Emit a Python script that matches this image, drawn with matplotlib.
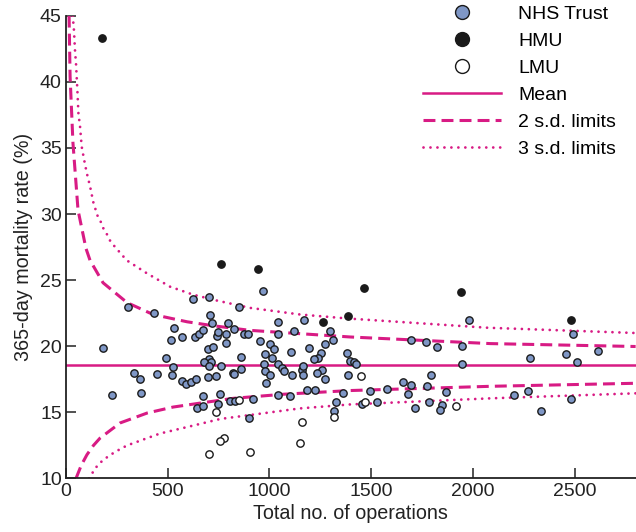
import numpy as np
import matplotlib
matplotlib.use('Agg')
import matplotlib.pyplot as plt
from matplotlib.lines import Line2D

plt.rcParams['font.family'] = ['Liberation Sans', 'DejaVu Sans']

# NHS trusts (blue)
nhs_ops = [306, 434, 626, 705, 968, 184, 225, 335, 366, 370, 448, 492, 517, 533, 569,
           526, 522, 571, 590, 612, 640, 635, 654, 673, 710, 720, 700, 722, 704, 712,
           679, 705, 700, 737, 741, 749, 786, 796, 787, 761, 827, 876, 897, 860, 858,
           823, 828, 671, 646, 673, 759, 749, 808, 830, 917, 899, 954, 1002, 1020, 1042,
           1040, 979, 1012, 974, 978, 1002, 981, 1042, 1064, 1073, 1113, 1108, 1123, 1171, 1160,
           1163, 1165, 1194, 1187, 1042, 1102, 1297, 1312, 1274, 1255, 1241, 1217, 1381, 1394, 1414,
           1427, 1386, 1260, 1236, 1273, 1225, 1363, 1328, 1315, 1494, 1456, 1530, 1578, 1657, 1694,
           1681, 1714, 1775, 1792, 1783, 1846, 1839, 1868, 1697, 1768, 1822, 1945, 1948, 1979, 2490,
           2460, 2513, 2613, 2283, 2204, 2272, 2483, 2337, 848]
nhs_rate = [23.0, 22.55, 23.6, 23.7, 24.2, 19.87, 16.29, 18.0, 17.5, 16.44, 17.9, 19.1, 20.5, 21.4, 20.7,
            18.4, 17.86, 17.35, 17.14, 17.3, 17.5, 20.7, 20.93, 21.2, 22.37, 21.77, 19.8, 19.98, 19.07, 18.84,
            18.84, 18.5, 17.7, 17.75, 20.8, 21.04, 20.93, 21.77, 20.23, 18.54, 21.29, 20.89, 20.9, 19.17, 18.28,
            18.0, 17.88, 16.23, 15.36, 15.48, 16.39, 15.66, 15.83, 15.83, 15.98, 14.57, 20.43, 20.15, 19.8, 21.8,
            20.91, 19.39, 19.14, 18.69, 18.16, 17.83, 17.25, 18.64, 18.36, 18.13, 17.86, 19.57, 21.16, 21.97, 18.23,
            18.5, 17.8, 19.9, 16.69, 16.29, 16.27, 21.16, 20.45, 20.17, 19.52, 19.1, 19.04, 19.47, 18.89, 18.81,
            18.64, 17.86, 18.18, 18.0, 17.52, 16.72, 16.46, 15.81, 15.13, 16.59, 15.66, 15.81, 16.74, 17.3, 17.1,
            16.39, 15.36, 17.02, 17.86, 15.81, 15.55, 15.17, 16.54, 20.45, 20.3, 19.95, 20.02, 18.66, 22.02, 20.89,
            19.42, 18.81, 19.62, 19.11, 16.34, 16.64, 16.0, 15.1, 23.0]

# high mortality units
hmu_ops = [176, 763, 946, 1463, 1940, 1384, 1264, 2480]
hmu_rate = [43.3, 26.19, 25.81, 24.42, 24.13, 22.27, 21.8, 22.02]

# low mortality units
lmu_ops = [850, 737, 779, 759, 705, 904, 1160, 1149, 1449, 1469, 1915, 1319]
lmu_rate = [15.93, 15.02, 13.08, 12.86, 11.87, 11.99, 14.28, 12.69, 17.78, 15.8, 15.49, 14.62]

mean_rate = 18.6

# control limits
up2_n = [15, 20, 34, 59, 98, 118, 182, 300, 428, 595, 723, 905, 1397, 2086, 2800]
up2_y = [45.0, 40.4, 35.4, 30.3, 27.4, 26.5, 24.8, 23.3, 22.4, 21.85, 21.55, 21.2, 20.7, 20.2, 19.98]
lo2_n = [49, 75, 103, 135, 167, 266, 399, 526, 659, 822, 1068, 1397, 2086, 2800]
lo2_y = [10.0, 11.0, 11.8, 12.5, 13.05, 14.2, 14.95, 15.4, 15.7, 16.06, 16.37, 16.65, 16.97, 17.2]
up3_n = [33, 39, 44, 49, 56, 61, 69, 77, 89, 102, 118, 134, 154, 171, 184, 200, 216, 236, 298,
         399, 512, 625, 743, 905, 1151, 1383, 2071, 2800]
up3_y = [45.0, 43.9, 42.4, 41.4, 39.3, 37.6, 36.6, 35.1, 34.1, 33.1, 32.1, 30.9, 29.9, 29.4, 28.9,
         28.5, 28.0, 27.6, 26.5, 25.5, 24.5, 23.9, 23.45, 22.9, 22.4, 22.1, 21.4, 21.0]
lo3_n = [113, 145, 182, 240, 300, 462, 625, 758, 905, 1151, 1397, 2086, 2800]
lo3_y = [10.0, 10.8, 11.4, 12.0, 12.5, 13.4, 14.0, 14.5, 14.8, 15.3, 15.6, 16.06, 16.44]

pink = '#d81b84'
blue = '#7f97c6'
ink = '#222222'

fig = plt.figure(figsize=(6.36, 5.32), dpi=100)
ax = fig.add_axes([0.1038, 0.1006, 0.8956, 0.870])

ax.axhline(mean_rate, color=pink, lw=1.8, zorder=2)
ax.plot(up2_n, up2_y, color=pink, lw=2.2, dashes=(3.9, 2.0), zorder=2)
ax.plot(lo2_n, lo2_y, color=pink, lw=2.2, dashes=(3.9, 2.0), zorder=2)
ax.plot(up3_n, up3_y, color=pink, lw=2.0, dashes=(0.01, 2.5), dash_capstyle='round', zorder=2)
ax.plot(lo3_n, lo3_y, color=pink, lw=2.0, dashes=(0.01, 2.5), dash_capstyle='round', zorder=2)

ax.scatter(nhs_ops, nhs_rate, s=28, facecolor=blue, edgecolor='#1a1a1a', linewidth=1.0, zorder=3)
ax.scatter(hmu_ops, hmu_rate, s=28, facecolor='#1a1a1a', edgecolor='#1a1a1a', linewidth=1.0, zorder=3)
ax.scatter(lmu_ops, lmu_rate, s=28, facecolor='white', edgecolor='#1a1a1a', linewidth=1.0, zorder=3)

ax.set_xlim(0, 2800)
ax.set_ylim(10, 45)
ax.set_xticks([0, 500, 1000, 1500, 2000, 2500])
ax.set_yticks([10, 15, 20, 25, 30, 35, 40, 45])
for s in ['top', 'right']:
    ax.spines[s].set_visible(False)
for s in ['left', 'bottom']:
    ax.spines[s].set_linewidth(1.3)
    ax.spines[s].set_color(ink)
ax.tick_params(direction='in', length=7, width=1.1, labelsize=14, colors=ink, pad=3)
ax.set_xlabel('Total no. of operations', fontsize=14.2, color=ink, labelpad=3)
ax.set_ylabel('365-day mortality rate (%)', fontsize=14.2, color=ink, labelpad=5)

handles = [
    Line2D([], [], ls='none', marker='o', ms=10, mfc=blue, mec='#1a1a1a', mew=1.0),
    Line2D([], [], ls='none', marker='o', ms=10, mfc='#1a1a1a', mec='#1a1a1a', mew=1.0),
    Line2D([], [], ls='none', marker='o', ms=10, mfc='white', mec='#1a1a1a', mew=1.0),
    Line2D([], [], color=pink, lw=1.8),
    Line2D([], [], color=pink, lw=2.2, dashes=(3.9, 2.0)),
    Line2D([], [], color=pink, lw=2.0, dashes=(0.01, 2.5), dash_capstyle='round'),
]
labels = ['NHS Trust', 'HMU', 'LMU', 'Mean', '2 s.d. limits', '3 s.d. limits']
ax.legend(handles, labels, loc='upper left', bbox_to_anchor=(0.627, 1.022), frameon=False,
          fontsize=14, handlelength=4.0, handletextpad=0.9, labelspacing=0.48,
          borderpad=0, borderaxespad=0)

fig.savefig('out.png', dpi=100)
